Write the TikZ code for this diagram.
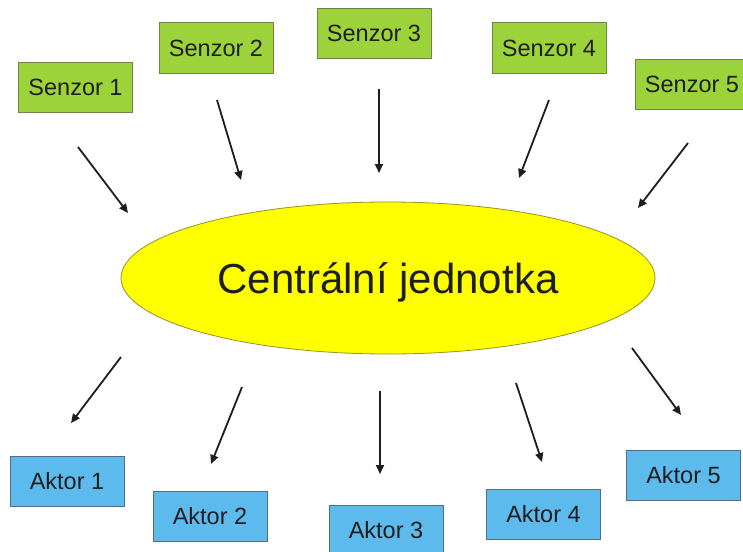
\documentclass[tikz,border=0pt]{standalone}
\usepackage{fontspec}
\setmainfont{Liberation Sans}
\usetikzlibrary{shapes.geometric,arrows.meta}
\definecolor{senzfill}{RGB}{157,211,58}
\definecolor{senzdraw}{RGB}{112,130,72}
\definecolor{aktfill}{RGB}{92,186,236}
\definecolor{aktdraw}{RGB}{88,108,128}
\definecolor{ellfill}{RGB}{255,255,0}
\definecolor{elldraw}{RGB}{150,145,40}
\definecolor{ink}{RGB}{30,30,30}
\tikzset{
  boxbase/.style={rectangle, minimum width=114pt, minimum height=50pt, inner sep=0pt,
    line width=1pt, text=ink, font=\fontsize{23.5pt}{26pt}\selectfont},
  senzbox/.style={boxbase, fill=senzfill, draw=senzdraw},
  aktbox/.style={boxbase, fill=aktfill, draw=aktdraw},
  central/.style={ellipse, minimum width=534pt, minimum height=152pt, inner sep=0pt,
    fill=ellfill, draw=elldraw, line width=0.8pt, text=ink,
    font=\fontsize{42pt}{46pt}\selectfont, text height=30pt, text depth=0pt},
  arr/.style={draw=ink, line width=1.8pt, -{Triangle[length=9pt,width=8pt]}}
}
\begin{document}
\begin{tikzpicture}[x=1pt,y=-1pt]
\fill[white] (0,0) rectangle (743,551);
\useasboundingbox (0,0) rectangle (743,551);
\begin{scope}
\clip (0,0) rectangle (743,551);
% central unit
\node[central] (cj) at (388,278) {Centrální jednotka};
% sensors
\node[senzbox] (s1) at (75.5,87) {Senzor 1};
\node[senzbox] (s2) at (216,48) {Senzor 2};
\node[senzbox] (s3) at (374,33.5) {Senzor 3};
\node[senzbox] (s4) at (549,48) {Senzor 4};
\node[senzbox] (s5) at (692,84) {Senzor 5};
% actuators
\node[aktbox] (a1) at (67,481) {Aktor 1};
\node[aktbox] (a2) at (210,516.5) {Aktor 2};
\node[aktbox] (a3) at (386,530.5) {Aktor 3};
\node[aktbox] (a4) at (543.5,514) {Aktor 4};
\node[aktbox] (a5) at (683.5,475.5) {Aktor 5};
% arrow end points
\coordinate (s1a) at (78,147);  \coordinate (s1b) at (128,213);
\coordinate (s2a) at (217,100); \coordinate (s2b) at (241,180);
\coordinate (s3a) at (379,89);  \coordinate (s3b) at (379,173);
\coordinate (s4a) at (549,100); \coordinate (s4b) at (519,178);
\coordinate (s5a) at (688,143); \coordinate (s5b) at (638,208);
\coordinate (a1a) at (121,357); \coordinate (a1b) at (71,423);
\coordinate (a2a) at (242,387); \coordinate (a2b) at (211,464);
\coordinate (a3a) at (380,391); \coordinate (a3b) at (380,474);
\coordinate (a4a) at (516,383); \coordinate (a4b) at (542,462);
\coordinate (a5a) at (632,348); \coordinate (a5b) at (681,415);
\foreach \n in {s1,s2,s3,s4,s5,a1,a2,a3,a4,a5}
  \draw[arr] (\n a) -- (\n b);
\end{scope}
\end{tikzpicture}
\end{document}
